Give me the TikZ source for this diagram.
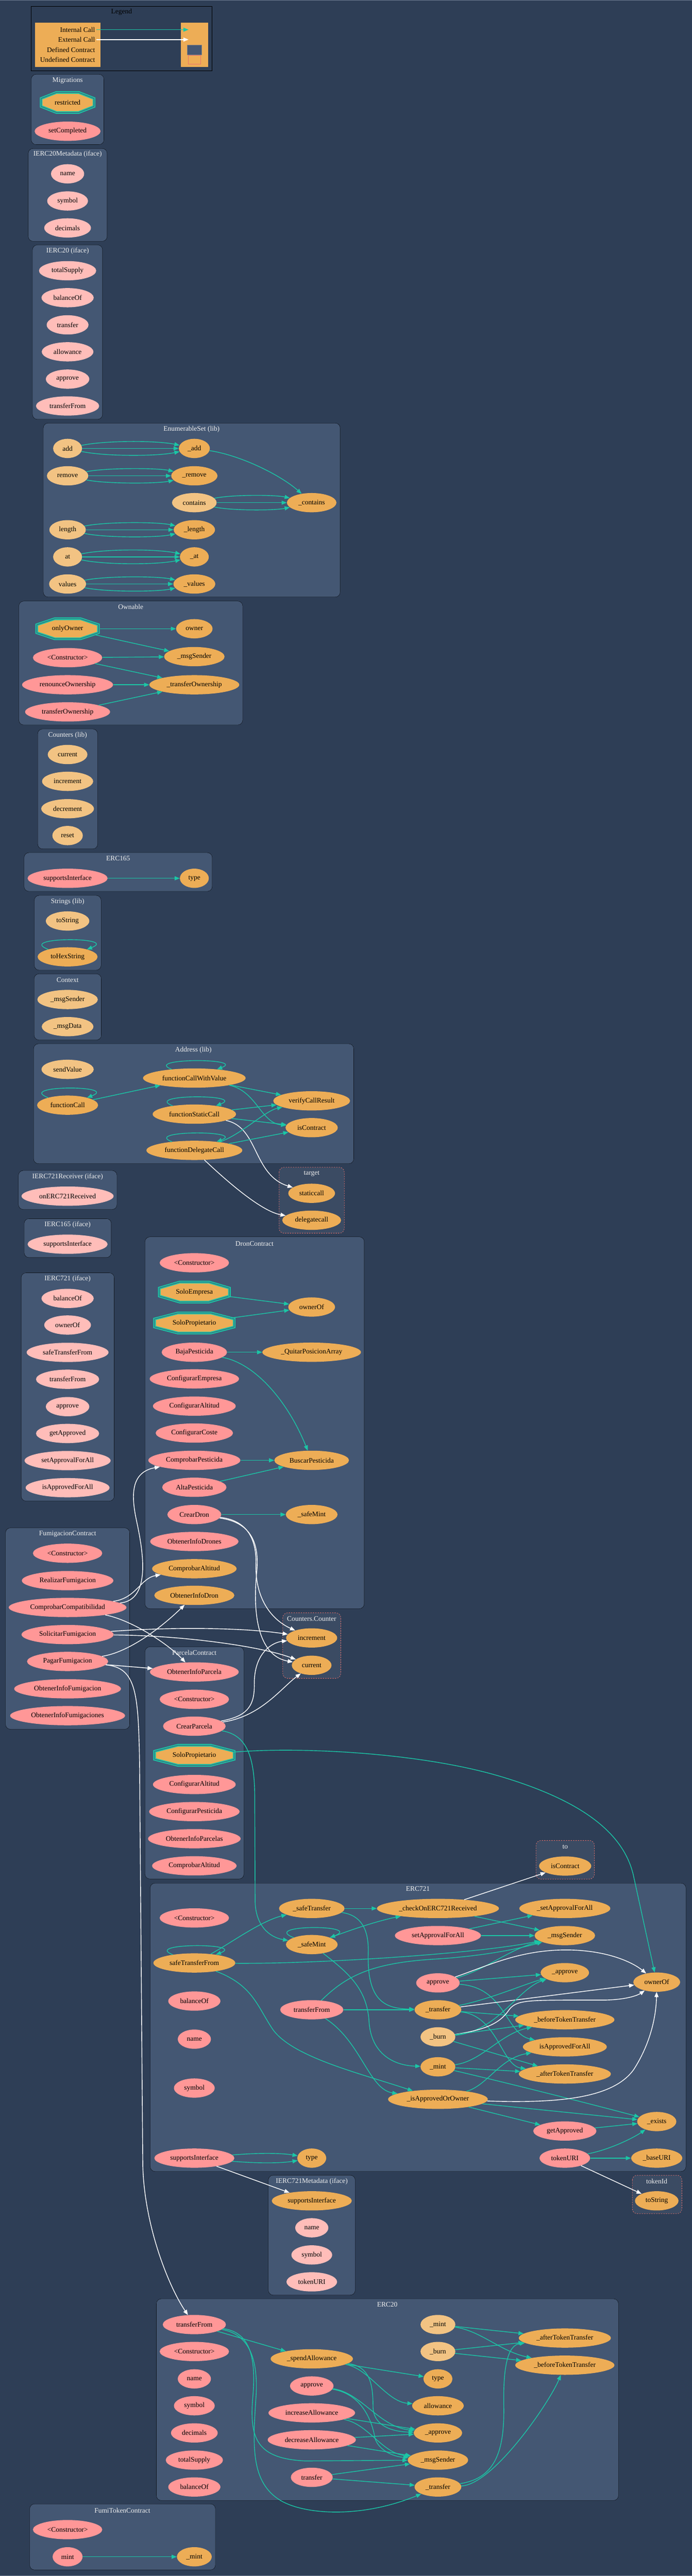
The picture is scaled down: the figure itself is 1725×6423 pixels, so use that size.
\documentclass[tikz,border=0pt]{standalone}
\usepackage{fontspec}
\setmainfont{Liberation Serif}
\usetikzlibrary{shapes.geometric,arrows.meta}
\definecolor{bgc}{HTML}{2E3E56}
\definecolor{edgec}{HTML}{6B7A8F}
\definecolor{clusc}{HTML}{445773}
\definecolor{undefc}{HTML}{3B4B63}
\definecolor{undefl}{HTML}{E8726D}
\definecolor{pubc}{HTML}{FF9797}
\definecolor{extc}{HTML}{FFBDB9}
\definecolor{privc}{HTML}{EDAD56}
\definecolor{intc}{HTML}{F2C383}
\definecolor{tealc}{HTML}{1BC6A6}
\definecolor{titlec}{HTML}{F0F0F0}
\newcommand\modnode[5]{%
  \draw[modline] (#2-#4/2+3.6,#3-10) -- (#2-#4/2+3.6,#3+10) -- (#2-0.2*#4,#3+25) -- (#2+0.2*#4,#3+25) -- (#2+#4/2-3.6,#3+10) -- (#2+#4/2-3.6,#3-10) -- (#2+0.2*#4,#3-25) -- (#2-0.2*#4,#3-25) -- cycle;
  \node[modtxt, minimum width=#4pt] (#1) at (#2,#3) {#5};}
\newcommand\selfcall[3]{\draw[icall] (#1) .. controls (#2-130,#3-50) and (#2+130,#3-50) .. (#1);}
\newcommand\tricall[5]{%
  \draw[icall] (#1) -- (#2);
  \draw[icall] (#1) .. controls (#3+92,#5-20) and (#4-94,#5-20) .. (#2);
  \draw[icall] (#1) .. controls (#3+92,#5+20) and (#4-94,#5+20) .. (#2);}
\begin{document}
\begin{tikzpicture}[x=1pt, y=-1pt, font=\fontsize{17.3}{20}\selectfont,
    fn/.style={ellipse, inner xsep=10.5pt, inner ysep=2pt, minimum height=48pt, minimum width=72pt, text=black},
    fpub/.style={fn, fill=pubc}, fext/.style={fn, fill=extc},
    fpriv/.style={fn, fill=privc}, fint/.style={fn, fill=intc},
    modtxt/.style={ellipse, minimum height=57pt, inner sep=0pt, text=black},
    modline/.style={fill=privc, draw=tealc, line width=2.6pt, double=clusc, double distance=1.4pt},
    clus/.style={fill=clusc, rounded corners=12pt},
    uclus/.style={fill=undefc, draw=undefl, dashed, line width=1pt, rounded corners=12pt},
    ctitle/.style={text=titlec},
    lgtxt/.style={text=black, inner sep=3pt},
    icall/.style={draw=tealc, line width=1.8pt, -{Triangle[length=13pt,width=10pt]}},
    xcall/.style={icall, draw=white}]
        \useasboundingbox (0,0) rectangle (1725,6423);
        \fill[bgc] (0,0) rectangle (1725,6423);
        \draw[edgec, line width=1.5pt] (0,0.75) -- (1725,0.75);
        \draw[edgec, line width=1.5pt] (0,6422.25) -- (1725,6422.25);

        \draw[black, line width=1pt] (77,15.5) rectangle (529,176);
        \node[lgtxt] (lgTitle) at (303,30) {Legend};
        \fill[privc] (87.5,56.8) rectangle (250,166.5);
        \fill[privc] (451,56.8) rectangle (519,166.5);
        \node[lgtxt, anchor=east] (lgInt) at (240,74) {Internal Call};
        \node[lgtxt, anchor=east] (lgExt) at (240,98.7) {External Call};
        \node[lgtxt, anchor=east] (lgDef) at (240,124) {Defined Contract};
        \node[lgtxt, anchor=east] (lgUndef) at (240,148.7) {Undefined Contract};
        \coordinate (lgIntEnd) at (470,74);
        \coordinate (lgExtEnd) at (470,98.7);
        \draw[icall] (lgInt) -- (lgIntEnd);
        \draw[xcall] (lgExt) -- (lgExtEnd);
        \draw[fill=clusc, draw=gray] (467,111.4) rectangle (502,136.6);
        \draw[fill=privc, draw=undefl, line width=1pt] (469.6,138.3) rectangle (500,159.6);

        \draw[clus] (78,185.4) rectangle (259,360.5);
        \node[ctitle] (tMig) at (168.5,201.5) {Migrations};
        \modnode{migRes}{168.5}{255.5}{139}{restricted}
        \node[fpub] (migSet) at (168.5,327.2) {setCompleted};

        \draw[clus] (70.5,370.3) rectangle (267,601.6);
        \node[ctitle] (tIMeta) at (168.5,384.6) {IERC20Metadata (iface)};
        \node[fext] (imName) at (168.5,433.4) {name};
        \node[fext] (imSym) at (168.5,501.1) {symbol};
        \node[fext] (imDec) at (168.5,568.3) {decimals};

        \draw[clus] (81,610.8) rectangle (255.5,1045.4);
        \node[ctitle] (tIERC20) at (168.5,625.7) {IERC20 (iface)};
        \node[fext] (ieTot) at (168.5,675) {totalSupply};
        \node[fext] (ieBal) at (168.5,742.3) {balanceOf};
        \node[fext] (ieTr) at (168.5,810) {transfer};
        \node[fext] (ieAll) at (168.5,877.2) {allowance};
        \node[fext] (ieApp) at (168.5,945.3) {approve};
        \node[fext] (ieTrF) at (168.5,1012.2) {transferFrom};

        \draw[clus] (108,1055) rectangle (848,1488.6);
        \node[ctitle] (tEnum) at (477.6,1070.3) {EnumerableSet (lib)};
        \node[fint] (esAdd) at (168.5,1118.1) {add};
        \node[fpriv] (esAddP) at (484.5,1118.1) {\_add};
        \node[fint] (esRem) at (168.5,1186.4) {remove};
        \node[fpriv] (esRemP) at (484.5,1186.4) {\_remove};
        \node[fint] (esCon) at (484.5,1253.3) {contains};
        \node[fpriv] (esConP) at (777,1253.3) {\_contains};
        \node[fint] (esLen) at (168.5,1320.9) {length};
        \node[fpriv] (esLenP) at (484.5,1320.9) {\_length};
        \node[fint] (esAt) at (168.5,1388.5) {at};
        \node[fpriv] (esAtP) at (484.5,1388.5) {\_at};
        \node[fint] (esVal) at (168.5,1456.1) {values};
        \node[fpriv] (esValP) at (484.5,1456.1) {\_values};

        \draw[clus] (47,1498.9) rectangle (605,1807.5);
        \node[ctitle] (tOwn) at (326,1513.5) {Ownable};
        \modnode{owOnly}{168.5}{1567.7}{161}{onlyOwner}
        \node[fpriv] (owOwner) at (484.5,1567.7) {owner};
        \node[fpub] (owCtor) at (168.5,1639.8) {<Constructor>};
        \node[fpriv] (owMsg) at (484.5,1637.2) {\_msgSender};
        \node[fpub] (owRen) at (168.5,1707.4) {renounceOwnership};
        \node[fpriv] (owTrP) at (484.5,1707.4) {\_transferOwnership};
        \node[fpub] (owTr) at (168.5,1775) {transferOwnership};

        \draw[clus] (94,1817.7) rectangle (243.4,2116.6);
        \node[ctitle] (tCnt) at (168.5,1833) {Counters (lib)};
        \node[fint] (cnCur) at (168.5,1881.3) {current};
        \node[fint] (cnInc) at (168.5,1948.2) {increment};
        \node[fint] (cnDec) at (168.5,2016.5) {decrement};
        \node[fint] (cnRes) at (168.5,2083.4) {reset};

        \draw[clus] (60,2126.1) rectangle (529,2222.4);
        \node[ctitle] (tE165) at (294.5,2140.8) {ERC165};
        \node[fpub] (e165Sup) at (168.5,2189.9) {supportsInterface};
        \node[fpriv] (e165Type) at (484.5,2189.9) {type};

        \draw[clus] (85.5,2232.7) rectangle (252,2418.9);
        \node[ctitle] (tStr) at (168.5,2248) {Strings (lib)};
        \node[fint] (stTo) at (168.5,2296.4) {toString};
        \node[fpriv] (stHex) at (168.5,2385.7) {toHexString};

        \draw[clus] (85,2428.4) rectangle (252.6,2593);
        \node[ctitle] (tCtx) at (168.5,2443.7) {Context};
        \node[fint] (cxMsg) at (168.5,2492.2) {\_msgSender};
        \node[fint] (cxData) at (168.5,2559.8) {\_msgData};

        \draw[clus] (83.8,2602.6) rectangle (881.7,2901.5);
        \node[ctitle] (tAddr) at (482,2617.8) {Address (lib)};
        \node[fint] (adSend) at (168.5,2666.3) {sendValue};
        \node[fpriv] (adCall) at (168.5,2755.6) {functionCall};
        \node[fpriv] (adCallV) at (484.5,2688) {functionCallWithValue};
        \node[fpriv] (adVer) at (777,2744.8) {verifyCallResult};
        \node[fpriv] (adStat) at (484.5,2778) {functionStaticCall};
        \node[fpriv] (adIsC) at (777,2811.7) {isContract};
        \node[fpriv] (adDel) at (484.5,2868.3) {functionDelegateCall};

        \draw[uclus] (695.8,2910.6) rectangle (858.3,3074.8);
        \node[ctitle] (tTarget) at (777,2926.4) {target};
        \node[fpriv] (tgStat) at (777,2975.3) {staticcall};
        \node[fpriv] (tgDel) at (777,3042.5) {delegatecall};

        \draw[clus] (46,2918.6) rectangle (291.6,3015.6);
        \node[ctitle] (tIRec) at (168.5,2934) {IERC721Receiver (iface)};
        \node[fext] (irRec) at (168.5,2982.4) {onERC721Received};

        \draw[clus] (60.3,3038.5) rectangle (277.3,3135.5);
        \node[ctitle] (tI165) at (168.5,3053.8) {IERC165 (iface)};
        \node[fext] (i165Sup) at (168.5,3102.3) {supportsInterface};

        \draw[clus] (52.8,3173.7) rectangle (284.7,3742.6);
        \node[ctitle] (tI721) at (168.5,3189) {IERC721 (iface)};
        \node[fext] (i7Bal) at (168.5,3237.5) {balanceOf};
        \node[fext] (i7Own) at (168.5,3303.8) {ownerOf};
        \node[fext] (i7Safe) at (168.5,3372) {safeTransferFrom};
        \node[fext] (i7TrF) at (168.5,3439) {transferFrom};
        \node[fext] (i7App) at (168.5,3507.3) {approve};
        \node[fext] (i7Get) at (168.5,3574.2) {getApproved};
        \node[fext] (i7Set) at (168.5,3641.8) {setApprovalForAll};
        \node[fext] (i7Is) at (168.5,3709.4) {isApprovedForAll};

        \draw[clus] (361.6,3084) rectangle (908,4011);
        \node[ctitle] (tDron) at (634.4,3100.5) {DronContract};
        \node[fpub] (drCtor) at (484.5,3148.6) {<Constructor>};
        \modnode{drEmp}{484.5}{3221.6}{182}{SoloEmpresa}
        \node[fpriv] (drOwn) at (777,3258.9) {ownerOf};
        \modnode{drProp}{484.5}{3298.7}{205.6}{SoloPropietario}
        \node[fpub] (drBaja) at (484.5,3371.6) {BajaPesticida};
        \node[fpriv] (drQuit) at (777,3371.6) {\_QuitarPosicionArray};
        \node[fpub] (drCfgE) at (484.5,3438) {ConfigurarEmpresa};
        \node[fpub] (drCfgA) at (484.5,3506) {ConfigurarAltitud};
        \node[fpub] (drCfgC) at (484.5,3573.1) {ConfigurarCoste};
        \node[fpub] (drComP) at (484.5,3641.1) {ComprobarPesticida};
        \node[fpriv] (drBus) at (777,3641.1) {BuscarPesticida};
        \node[fpub] (drAlta) at (484.5,3708.3) {AltaPesticida};
        \node[fpub] (drCrear) at (484.5,3776.3) {CrearDron};
        \node[fpriv] (drMint) at (777,3776.3) {\_safeMint};
        \node[fpub] (drInfos) at (484.5,3843.5) {ObtenerInfoDrones};
        \node[fpriv] (drComA) at (484.5,3911.4) {ComprobarAltitud};
        \node[fpriv] (drInfo) at (484.5,3977.8) {ObtenerInfoDron};

        \draw[clus] (13.8,3809.7) rectangle (323.2,4311.6);
        \node[ctitle] (tFumi) at (168.5,3825) {FumigacionContract};
        \node[fpub] (fuCtor) at (168.5,3872.8) {<Constructor>};
        \node[fpub] (fuReal) at (168.5,3941.1) {RealizarFumigacion};
        \node[fpub] (fuComp) at (168.5,4008) {ComprobarCompatibilidad};
        \node[fpub] (fuSol) at (168.5,4075.6) {SolicitarFumigacion};
        \node[fpub] (fuPag) at (168.5,4142.6) {PagarFumigacion};
        \node[fpub] (fuInfo) at (168.5,4210.8) {ObtenerInfoFumigacion};
        \node[fpub] (fuInfos) at (168.5,4277.8) {ObtenerInfoFumigaciones};

        \draw[uclus] (705,4021.4) rectangle (849.6,4184.7);
        \node[ctitle] (tCC) at (777,4036) {Counters.Counter};
        \node[fpriv] (ccInc) at (777,4084) {increment};
        \node[fpriv] (ccCur) at (777,4152.2) {current};

        \draw[clus] (361.6,4106.2) rectangle (608,4685);
        \node[ctitle] (tParc) at (484.5,4121) {ParcelaContract};
        \node[fpub] (paInfo) at (484.5,4168.8) {ObtenerInfoParcela};
        \node[fpub] (paCtor) at (484.5,4237) {<Constructor>};
        \node[fpub] (paCrear) at (484.5,4304) {CrearParcela};
        \modnode{paProp}{484.5}{4376.6}{205.6}{SoloPropietario}
        \node[fpub] (paCfgA) at (484.5,4449.4) {ConfigurarAltitud};
        \node[fpub] (paCfgP) at (484.5,4517) {ConfigurarPesticida};
        \node[fpub] (paInfos) at (484.5,4584.6) {ObtenerInfoParcelas};
        \node[fpub] (paComA) at (484.5,4652.2) {ComprobarAltitud};

        \draw[uclus] (1336.4,4589) rectangle (1481.8,4685.2);
        \node[ctitle] (tTo) at (1409,4605.5) {to};
        \node[fpriv] (toIsC) at (1409,4652.7) {isContract};

        \draw[clus] (374.5,4695.4) rectangle (1710,5414.2);
        \node[ctitle] (tE721) at (1041.8,4710) {ERC721};
        \node[fpub] (e7Ctor) at (484.5,4782.1) {<Constructor>};
        \node[fpriv] (e7SafeT) at (777.3,4758.5) {\_safeTransfer};
        \node[fpriv] (e7Check) at (1091.8,4758.5) {\_checkOnERC721Received};
        \node[fpriv] (e7SetP) at (1408.2,4758.5) {\_setApprovalForAll};
        \node[fpriv] (e7SafeM) at (777.3,4848.5) {\_safeMint};
        \node[fpub] (e7Set) at (1091.8,4826.1) {setApprovalForAll};
        \node[fpriv] (e7Msg) at (1408.2,4826.1) {\_msgSender};
        \node[fpriv] (e7Safe) at (484.5,4894.4) {safeTransferFrom};
        \node[fpub] (e7App) at (1091.8,4944.1) {approve};
        \node[fpriv] (e7AppP) at (1408.2,4918.6) {\_approve};
        \node[fpriv] (e7Own) at (1637.3,4942.2) {ownerOf};
        \node[fpub] (e7Bal) at (484.5,4989.4) {balanceOf};
        \node[fpub] (e7TrF) at (777.3,5011.1) {transferFrom};
        \node[fpriv] (e7TrP) at (1091.8,5011.1) {\_transfer};
        \node[fpriv] (e7Bef) at (1408.2,5036) {\_beforeTokenTransfer};
        \node[fint] (e7Burn) at (1091.8,5078.7) {\_burn};
        \node[fpub] (e7Name) at (484.5,5084.4) {name};
        \node[fpriv] (e7Is) at (1408.2,5103.6) {isApprovedForAll};
        \node[fpriv] (e7Mint) at (1091.8,5153.3) {\_mint};
        \node[fpriv] (e7Aft) at (1408.2,5171.2) {\_afterTokenTransfer};
        \node[fpub] (e7Sym) at (484.5,5206.3) {symbol};
        \node[fpriv] (e7IsAO) at (1091.8,5234.3) {\_isApprovedOrOwner};
        \node[fpriv] (e7Ex) at (1637.3,5289.8) {\_exists};
        \node[fpub] (e7Get) at (1408.2,5313.4) {getApproved};
        \node[fpub] (e7Sup) at (484.5,5381) {supportsInterface};
        \node[fpriv] (e7Type) at (777.3,5381) {type};
        \node[fpub] (e7URI) at (1408.2,5381) {tokenURI};
        \node[fpriv] (e7Base) at (1637.3,5381) {\_baseURI};

        \draw[clus] (669,5423.7) rectangle (885.5,5722.5);
        \node[ctitle] (tIMd) at (777.3,5439) {IERC721Metadata (iface)};
        \node[fpriv] (imdSup) at (777.3,5487.5) {supportsInterface};
        \node[fext] (imdName) at (777.3,5554.7) {name};
        \node[fext] (imdSym) at (777.3,5622.4) {symbol};
        \node[fext] (imdURI) at (777.3,5689.5) {tokenURI};

        \draw[uclus] (1576.4,5423.7) rectangle (1700,5519.4);
        \node[ctitle] (tTok) at (1637.3,5439) {tokenId};
        \node[fpriv] (tkStr) at (1637.3,5487.5) {toString};

        \draw[clus] (390,5731.9) rectangle (1541.8,6234.5);
        \node[ctitle] (tE20) at (965.5,5746.6) {ERC20};
        \node[fpub] (e2TrF) at (484.5,5796) {transferFrom};
        \node[fpub] (e2Ctor) at (484.5,5863.2) {<Constructor>};
        \node[fpub] (e2Name) at (484.5,5931.4) {name};
        \node[fpub] (e2Sym) at (484.5,5998.5) {symbol};
        \node[fpub] (e2Dec) at (484.5,6066.2) {decimals};
        \node[fpub] (e2Tot) at (484.5,6133.9) {totalSupply};
        \node[fpub] (e2Bal) at (484.5,6201) {balanceOf};
        \node[fpriv] (e2Spend) at (777.3,5881.4) {\_spendAllowance};
        \node[fpub] (e2App) at (777.3,5949.1) {approve};
        \node[fpub] (e2Inc) at (777.3,6016.2) {increaseAllowance};
        \node[fpub] (e2Decr) at (777.3,6083.3) {decreaseAllowance};
        \node[fpub] (e2Tr) at (777.3,6176.9) {transfer};
        \node[fint] (e2Mint) at (1091.8,5796) {\_mint};
        \node[fint] (e2Burn) at (1091.8,5863.2) {\_burn};
        \node[fpriv] (e2Type) at (1091.8,5931.4) {type};
        \node[fpriv] (e2All) at (1091.8,5998.5) {allowance};
        \node[fpriv] (e2AppP) at (1091.8,6066.2) {\_approve};
        \node[fpriv] (e2Msg) at (1091.8,6133.9) {\_msgSender};
        \node[fpriv] (e2TrP) at (1091.8,6201) {\_transfer};
        \node[fpriv] (e2Aft) at (1408.2,5829.6) {\_afterTokenTransfer};
        \node[fpriv] (e2Bef) at (1408.2,5897.3) {\_beforeTokenTransfer};

        \draw[clus] (74.1,6243.3) rectangle (537,6407.7);
        \node[ctitle] (tFT) at (305,6259.7) {FumiTokenContract};
        \node[fpub] (ftCtor) at (168.5,6307.3) {<Constructor>};
        \node[fpub] (ftMint) at (168.5,6375) {mint};
        \node[fpriv] (ftMintP) at (484.5,6375) {\_mint};

        \tricall{esAdd}{esAddP}{168.5}{484.5}{1118.1}
        \tricall{esRem}{esRemP}{168.5}{484.5}{1186.4}
        \tricall{esCon}{esConP}{484.5}{777}{1253.3}
        \tricall{esLen}{esLenP}{168.5}{484.5}{1320.9}
        \tricall{esAt}{esAtP}{168.5}{484.5}{1388.5}
        \tricall{esVal}{esValP}{168.5}{484.5}{1456.1}
        \draw[icall] (esAddP) .. controls (600,1135) and (700,1185) .. (esConP);

        \draw[icall] (owOnly) -- (owOwner);
        \draw[icall] (owOnly) -- (owMsg);
        \draw[icall] (owCtor) -- (owMsg);
        \draw[icall] (owCtor) -- (owTrP);
        \draw[icall] (owRen) -- (owTrP);
        \draw[icall] (owTr) -- (owTrP);

        \draw[icall] (e165Sup) -- (e165Type);
        \selfcall{stHex}{168.5}{2385.7}

        \selfcall{adCall}{168.5}{2755.6}
        \draw[icall] (adCall) -- (adCallV);
        \selfcall{adCallV}{484.5}{2688}
        \draw[icall] (adCallV) -- (adVer);
        \draw[icall] (adCallV) .. controls (640,2720) and (650,2800) .. (adIsC);
        \selfcall{adStat}{484.5}{2778}
        \draw[icall] (adStat) -- (adVer);
        \draw[icall] (adStat) -- (adIsC);
        \draw[xcall] (adStat) .. controls (645,2810) and (630,2930) .. (tgStat);
        \selfcall{adDel}{484.5}{2868.3}
        \draw[icall] (adDel) .. controls (600,2830) and (660,2770) .. (adVer);
        \draw[icall] (adDel) -- (adIsC);
        \draw[xcall] (adDel) .. controls (560,2940) and (650,3020) .. (tgDel);

        \draw[icall] (drEmp) -- (drOwn);
        \draw[icall] (drProp) -- (drOwn);
        \draw[icall] (drBaja) -- (drQuit);
        \draw[icall] (drBaja) .. controls (640,3400) and (720,3500) .. (drBus);
        \draw[icall] (drComP) -- (drBus);
        \draw[icall] (drAlta) -- (drBus);
        \draw[icall] (drCrear) -- (drMint);
        \draw[xcall] (drCrear) .. controls (610,3790) and (640,3830) .. (638,3900) .. controls (636,3990) and (680,4040) .. (ccInc);
        \draw[xcall] (drCrear) .. controls (620,3795) and (648,3840) .. (640,3920) .. controls (628,4040) and (650,4130) .. (ccCur);

        \draw[xcall] (fuComp) .. controls (380,3990) and (355,3860) .. (340,3790) .. controls (325,3720) and (330,3670) .. (drComP);
        \draw[xcall] (fuComp) .. controls (340,3985) and (350,3935) .. (drComA);
        \draw[xcall] (fuComp) .. controls (330,4040) and (420,4100) .. (paInfo);
        \draw[xcall] (fuSol) .. controls (450,4055) and (620,4060) .. (ccInc);
        \draw[xcall] (fuSol) .. controls (460,4078) and (650,4105) .. (ccCur);
        \draw[xcall] (fuPag) .. controls (320,4120) and (400,4060) .. (drInfo);
        \draw[xcall] (fuPag) -- (paInfo);
        \draw[xcall] (fuPag) .. controls (340,4158) and (345,4220) .. (348,4400) -- (356,5400) .. controls (360,5550) and (420,5700) .. (e2TrF);

        \draw[xcall] (paCrear) .. controls (610,4280) and (635,4260) .. (634,4200) .. controls (633,4120) and (680,4095) .. (ccInc);
        \draw[xcall] (paCrear) .. controls (650,4280) and (700,4210) .. (ccCur);
        \draw[icall] (paCrear) .. controls (610,4325) and (635,4370) .. (635,4480) -- (636,4740) .. controls (637,4800) and (670,4830) .. (e7SafeM);
        \draw[icall] (paProp) .. controls (750,4355) and (1050,4370) .. (1250,4430) .. controls (1430,4484) and (1555,4560) .. (1580,4680) -- (e7Own);

        \selfcall{e7Safe}{484.5}{4894.4}
        \draw[icall] (e7Safe) .. controls (575,4845) and (650,4790) .. (e7SafeT);
        \draw[icall] (e7Safe) .. controls (800,4897) and (1200,4870) .. (e7Msg);
        \draw[icall] (e7Safe) .. controls (630,4950) and (640,5000) .. (680,5060) .. controls (730,5130) and (900,5170) .. (e7IsAO);
        \draw[icall] (e7SafeT) -- (e7Check);
        \draw[icall] (e7SafeT) .. controls (900,4775) and (920,4810) .. (918,4870) .. controls (915,4990) and (960,5008) .. (e7TrP);
        \selfcall{e7SafeM}{777.3}{4848.5}
        \draw[icall] (e7SafeM) .. controls (880,4810) and (940,4790) .. (e7Check);
        \draw[icall] (e7SafeM) .. controls (870,4920) and (915,4960) .. (920,5040) .. controls (925,5120) and (980,5150) .. (e7Mint);
        \draw[icall] (e7Check) -- (e7Msg);
        \draw[xcall] (e7Check) -- (toIsC);
        \draw[icall] (e7Set) -- (e7SetP);
        \draw[icall] (e7Set) -- (e7Msg);
        \draw[icall] (e7App) .. controls (1210,4912) and (1270,4860) .. (e7Msg);
        \draw[icall] (e7App) -- (e7AppP);
        \draw[icall] (e7App) .. controls (1260,4955) and (1260,5070) .. (e7Is);
        \draw[xcall] (e7App) .. controls (1220,4900) and (1300,4860) .. (1420,4862) .. controls (1520,4864) and (1580,4895) .. (e7Own);
        \draw[icall] (e7TrF) .. controls (860,4930) and (920,4895) .. (1080,4885) .. controls (1200,4878) and (1290,4860) .. (e7Msg);
        \draw[icall] (e7TrF) -- (e7TrP);
        \draw[icall] (e7TrF) .. controls (900,5090) and (920,5210) .. (e7IsAO);
        \draw[icall] (e7TrP) .. controls (1220,4985) and (1300,4950) .. (e7AppP);
        \draw[xcall] (e7TrP) -- (e7Own);
        \draw[icall] (e7TrP) -- (e7Bef);
        \draw[icall] (e7TrP) .. controls (1240,5025) and (1250,5150) .. (e7Aft);
        \draw[icall] (e7Burn) .. controls (1240,5065) and (1290,4960) .. (e7AppP);
        \draw[xcall] (e7Burn) .. controls (1220,5060) and (1250,5040) .. (1270,5010) .. controls (1290,4985) and (1320,4987) .. (1500,4987) .. controls (1560,4987) and (1590,4975) .. (e7Own);
        \draw[icall] (e7Burn) -- (e7Bef);
        \draw[icall] (e7Burn) -- (e7Aft);
        \draw[icall] (e7Mint) .. controls (1200,5140) and (1246,5072) .. (e7Bef);
        \draw[icall] (e7Mint) -- (e7Aft);
        \draw[icall] (e7Mint) .. controls (1250,5190) and (1450,5240) .. (e7Ex);
        \draw[icall] (e7IsAO) .. controls (1215,5200) and (1246,5132) .. (e7Is);
        \draw[xcall] (e7IsAO) .. controls (1400,5245) and (1530,5230) .. (1580,5160) .. controls (1625,5090) and (1636,5020) .. (e7Own);
        \draw[icall] (e7IsAO) -- (e7Ex);
        \draw[icall] (e7IsAO) -- (e7Get);
        \draw[icall] (e7Get) -- (e7Ex);
        \draw[icall] (e7URI) .. controls (1520,5360) and (1580,5330) .. (e7Ex);
        \draw[icall] (e7URI) -- (e7Base);
        \draw[xcall] (e7URI) -- (tkStr);
        \draw[icall] (e7Sup) .. controls (640,5368) and (700,5368) .. (e7Type);
        \draw[icall] (e7Sup) .. controls (640,5394) and (700,5394) .. (e7Type);
        \draw[xcall] (e7Sup) -- (imdSup);

        \draw[icall] (e2TrF) -- (e2Spend);
        \draw[icall] (e2TrF) .. controls (620,5815) and (640,5870) .. (630,5980) .. controls (622,6080) and (640,6130) .. (760,6136) -- (e2Msg);
        \draw[icall] (e2TrF) .. controls (620,5820) and (645,5880) .. (638,5980) .. controls (630,6100) and (625,6190) .. (700,6235) .. controls (760,6270) and (900,6280) .. (e2TrP);
        \draw[icall] (e2Spend) -- (e2Type);
        \draw[icall] (e2Spend) .. controls (920,5905) and (963,5988) .. (e2All);
        \draw[icall] (e2Spend) .. controls (920,5900) and (930,5940) .. (930,6000) .. controls (930,6050) and (980,6063) .. (e2AppP);
        \draw[icall] (e2App) .. controls (900,5965) and (945,6051) .. (e2AppP);
        \draw[icall] (e2App) .. controls (910,5970) and (930,6050) .. (935,6080) .. controls (945,6110) and (980,6125) .. (e2Msg);
        \draw[icall] (e2Inc) -- (e2AppP);
        \draw[icall] (e2Inc) .. controls (920,6045) and (950,6115) .. (e2Msg);
        \draw[icall] (e2Decr) -- (e2AppP);
        \draw[icall] (e2Decr) -- (e2Msg);
        \draw[icall] (e2Tr) -- (e2Msg);
        \draw[icall] (e2Tr) -- (e2TrP);
        \draw[icall] (e2Mint) -- (e2Aft);
        \draw[icall] (e2Mint) .. controls (1200,5812) and (1246,5862) .. (e2Bef);
        \draw[icall] (e2Burn) -- (e2Aft);
        \draw[icall] (e2Burn) -- (e2Bef);
        \draw[icall] (e2TrP) .. controls (1230,6180) and (1258,6120) .. (1256,6000) .. controls (1254,5900) and (1266,5847) .. (e2Aft);
        \draw[icall] (e2TrP) .. controls (1230,6195) and (1370,5990) .. (e2Bef);

        \draw[icall] (ftMint) -- (ftMintP);
\end{tikzpicture}
\end{document}
